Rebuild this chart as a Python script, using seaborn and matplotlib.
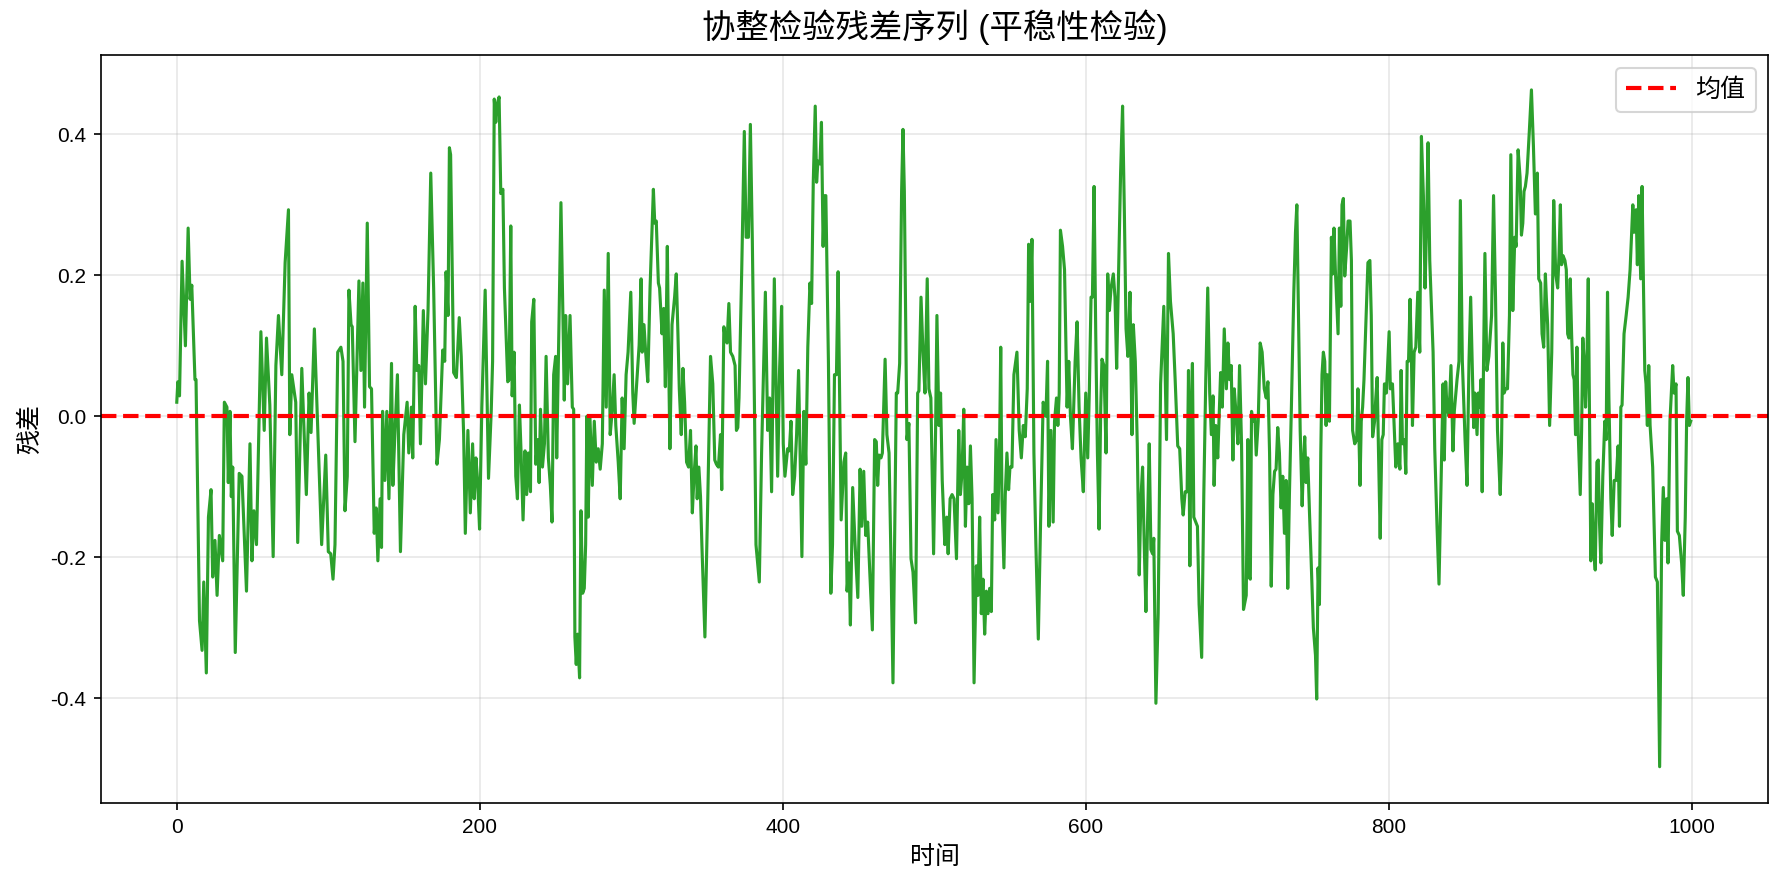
import numpy as np
import pandas as pd
import matplotlib
matplotlib.use("Agg")
import matplotlib.pyplot as plt
import seaborn as sns

# ---- data (time index, residual value) ----
t_seg1 = [0, 0.7, 1.8, 3.5, 5.7, 7.5, 8.8, 9.9, 12, 12.7, 15, 16.7, 17.8, 19.5, 20.9, 22.6, 23.7, 25.2, 26.6, 28.1,
          30.3, 31.4, 33.1, 34, 35.1, 36, 36.9, 38.6, 41.2, 43, 46, 48.3, 49.6, 50.9, 52.6, 55.5, 57.7, 59.2, 61.4, 63.6,
          65.4, 67.1, 69.3, 71.5, 73.7, 74.6, 75.9, 78.5, 79.8, 82.5, 85.5, 87.3, 88.6, 90.8, 95.6, 98.3]
v_seg1 = [0.02, 0.049, 0.029, 0.22, 0.10, 0.267, 0.166, 0.186, 0.052, 0.052, -0.29, -0.332, -0.235, -0.364, -0.143,
          -0.104, -0.228, -0.176, -0.254, -0.169, -0.205, 0.02, 0.013, -0.094, 0.007, -0.114, -0.072, -0.335, -0.081,
          -0.085, -0.248, -0.039, -0.205, -0.134, -0.182, 0.12, -0.02, 0.111, 0.016, -0.199, 0.072, 0.143, 0.059,
          0.218, 0.293, -0.026, 0.059, 0.02, -0.179, 0.068, -0.111, 0.033, -0.023, 0.124, -0.182, -0.055]

t_seg2 = [100, 101.6, 103.1, 104.4, 106.2, 108.3, 109.7, 111, 112.5, 113.6, 115, 115.8, 117.6, 120.2, 121.5, 122.8,
          123.9, 125.7, 127.2, 128.5, 130.3, 131.6, 132.7, 134.2, 135.1, 135.8, 137.3, 138.6, 140, 141.7, 142.6, 143.9,
          145.6, 147.6, 149.8, 152, 153.1, 154.8, 155.7, 157.3, 158.4, 159.7, 160.8, 162.7, 164.1, 165.8, 167.6, 169.5,
          171.7, 173.3, 175.5, 176.8, 177.7, 179, 179.9, 180.7, 182.7, 184.5, 186.4, 187.7, 189.3, 190.4, 192.1, 193.7,
          195.2, 196.3, 197.4, 198.5, 199.8, 201.3, 203.5]
v_seg2 = [-0.192, -0.195, -0.231, -0.182, 0.091, 0.098, 0.078, -0.134, -0.085, 0.179, 0.130, 0.127, -0.036, 0.192,
          0.065, 0.189, 0.013, 0.274, 0.042, 0.039, -0.166, -0.130, -0.205, -0.117, -0.186, 0.007, -0.091, 0.007,
          -0.117, 0.075, -0.098, -0.026, 0.059, -0.192, -0.026, 0.020, -0.052, 0.013, -0.059, 0.156, 0.065, 0.072,
          -0.039, 0.150, 0.046, 0.150, 0.345, 0.182, -0.068, -0.033, 0.094, 0.078, 0.205, 0.143, 0.381, 0.371, 0.062,
          0.055, 0.140, 0.085, -0.026, -0.166, -0.020, -0.137, -0.039, -0.117, -0.059, -0.091, -0.160, 0.013, 0.179]

t_seg3 = [205.7, 207.5, 208.4, 209.5, 210.5, 211.4, 212.7, 213.8, 215.2, 216.2, 217.3, 218.4, 219.3, 220.4, 221.3,
          222.6, 223.7, 224.8, 226.1, 227.2, 228.5, 229.8, 230.9, 232, 233.4, 234.2, 235.6, 236.9, 238.2, 239.1, 240,
          241.3, 242.6, 243.7, 245.2, 246.5, 247.6, 248.7, 250, 250.7, 251.8, 253.5, 254.8, 255.7, 256.6, 257.9, 259.5,
          261, 261.9, 262.7, 263.6, 264.5, 265.8, 266.7, 267.8, 268.9, 269.8, 270.6, 271.5, 272.6, 274.2, 275.5, 276.8,
          278.1, 279.4, 280.8, 282.1, 283.4, 284.7, 286, 287.3, 288.6, 289.7, 291.3, 292.6, 293.9, 295.2, 296.5, 297.8,
          299.6, 300.9, 301.8]
v_seg3 = [-0.088, 0.007, 0.078, 0.450, 0.417, 0.443, 0.453, 0.316, 0.322, 0.182, 0.117, 0.049, 0.052, 0.270, 0.029,
          0.091, -0.085, -0.117, 0.016, -0.052, -0.147, -0.049, -0.111, -0.052, -0.107, 0.134, 0.166, -0.068, -0.033,
          -0.094, 0.010, -0.072, -0.039, 0.085, -0.059, -0.098, -0.150, 0.059, 0.085, -0.059, 0.078, 0.303, 0.143,
          0.023, 0.143, 0.046, 0.143, 0.013, 0.010, -0.313, -0.352, -0.309, -0.371, -0.134, -0.251, -0.244, -0.182,
          0.0, -0.143, 0.0, -0.098, -0.007, -0.065, -0.046, -0.075, -0.039, 0.179, 0.013, 0.231, -0.026, 0.007, 0.059,
          -0.013, -0.065, -0.117, 0.026, -0.046, 0.059, 0.091, 0.176, 0.033, -0.010]

t_seg4 = [305.1, 306.4, 307.1, 308.3, 309.4, 310.8, 312.3, 314.5, 315.4, 316.4, 317.8, 318.6, 320.2, 321.3, 322.4,
          323.7, 324.6, 325.4, 326.8, 328.5, 329.6, 330.7, 331.6, 332.9, 334, 335.1, 336.4, 337.7, 339, 340.2, 341.3,
          342.6, 343.4, 344.5, 345.6, 346.5, 348.5, 350.4, 352.2, 353.7, 355, 356.1, 357.4, 358.8, 359.6, 361, 361.9,
          363.1, 364.3, 365.4, 366.9, 368.4, 369.3, 370.2, 371, 372.8, 374.5, 375.7, 377.2, 378.5, 379.8, 381.2, 382.2,
          384.4, 385.9, 388.4, 389.9, 391.2, 392.5, 394.3, 395.6, 396.5, 397.8, 399.1, 400.2, 401.3, 403.1]
v_seg4 = [0.101, 0.195, 0.091, 0.130, 0.091, 0.049, 0.182, 0.322, 0.274, 0.277, 0.189, 0.182, 0.117, 0.153, 0.042,
          0.241, 0.078, -0.046, 0.130, 0.169, 0.202, 0.117, 0.039, -0.026, 0.068, 0.020, -0.065, -0.072, -0.020,
          -0.137, -0.085, -0.042, -0.117, -0.072, -0.114, -0.182, -0.313, -0.117, 0.085, 0.046, -0.062, -0.068,
          -0.072, -0.026, -0.104, 0.127, 0.111, 0.104, 0.160, 0.091, 0.085, 0.072, -0.020, -0.016, 0.026, 0.208,
          0.404, 0.254, 0.254, 0.414, 0.248, 0.013, -0.182, -0.235, -0.052, 0.176, -0.020, 0.026, -0.107, 0.195,
          0.026, -0.085, 0.068, 0.156, -0.039, -0.085, -0.046]

t_seg5 = [404.2, 405.3, 406.4, 407.7, 409, 410.3, 411.2, 412.5, 413.8, 415.1, 416.4, 417.8, 418.9, 420, 421.3, 422.2,
          423.1, 424.4, 425.4, 426.5, 427.4, 428.3, 430, 431.6, 432.7, 434, 435.3, 436.4, 437.5, 438.4, 440.2, 441.4,
          442.3, 443.6, 444.5, 446, 447.6, 449.4, 450.9, 452, 453.3, 454.6, 455.9, 457.3, 459, 460.5, 461.6, 462.5,
          463.4, 464.7, 465.6, 467.4, 468.6, 470, 471.1, 472.6, 474, 474.8, 475.7, 477, 478.3, 479.2, 480.1, 481.8,
          483.1, 484.5, 485.8, 487.5, 488.9, 489.7, 491.1, 492.4, 493.7, 495.2, 496.3, 497.6, 499.4, 500.7, 501.6,
          502.9, 504, 505.1]
v_seg5 = [-0.049, -0.007, -0.111, -0.085, -0.026, 0.065, -0.039, -0.199, 0.007, -0.068, 0.098, 0.189, 0.160, 0.332,
          0.440, 0.332, 0.362, 0.358, 0.417, 0.241, 0.313, 0.313, 0.078, -0.251, -0.182, 0.059, 0.059, 0.205, 0.013,
          -0.147, -0.065, -0.052, -0.248, -0.208, -0.296, -0.101, -0.182, -0.257, -0.075, -0.156, -0.078, -0.169,
          -0.150, -0.221, -0.303, -0.033, -0.036, -0.098, -0.055, -0.059, -0.052, 0.081, -0.026, -0.052, -0.182,
          -0.378, -0.117, 0.033, 0.033, 0.075, 0.319, 0.407, 0.319, -0.033, -0.010, -0.202, -0.221, -0.293, 0.033,
          0.036, 0.169, 0.091, 0.033, 0.195, 0.039, 0.026, -0.195, -0.023, 0.143, -0.013, 0.033, -0.091]

t_seg6 = [506.8, 508.1, 509, 510.3, 511.6, 512.9, 514.5, 516, 517.1, 518.2, 519.3, 520.4, 521.5, 522.6, 523.7, 524.8,
          526.1, 527.6, 528.7, 529.8, 530.9, 532, 533.1, 534.2, 535.3, 536.4, 537.5, 538.4, 539.7, 540.6, 541.9, 543,
          543.7, 544.5, 545.8, 546.7, 547.8, 548.9, 549.8, 551.1, 552.4, 554.4, 555.9, 557.3, 558.6, 559.9, 561.2,
          562.1, 563.2, 564.3, 565.6, 566.9, 568.5, 570, 571.7, 573.5, 574.6, 575.5, 576.8, 578.3, 579.2, 580.5, 581.4,
          582.3, 583.1, 584.5, 585.8, 587.5, 588.6, 589.7, 591, 592.8, 594.1, 595.4, 596.7, 598.2, 599.8, 601.1, 602.2,
          603.3]
v_seg6 = [-0.182, -0.143, -0.195, -0.117, -0.111, -0.117, -0.202, -0.020, -0.111, -0.078, 0.010, -0.156, -0.072,
          -0.124, -0.042, -0.117, -0.378, -0.212, -0.254, -0.143, -0.280, -0.231, -0.309, -0.248, -0.280, -0.244,
          -0.277, -0.111, -0.147, -0.033, -0.137, -0.033, 0.098, -0.117, -0.215, -0.111, -0.052, -0.104, -0.072,
          -0.072, 0.059, 0.091, -0.020, -0.059, -0.013, -0.029, 0.039, 0.244, 0.163, 0.251, -0.052, -0.182, -0.316,
          -0.150, 0.020, 0.0, 0.078, -0.156, -0.020, -0.150, -0.007, 0.026, -0.013, 0.033, 0.264, 0.241, 0.208, 0.013,
          0.078, 0.0, -0.046, 0.078, 0.134, 0.013, -0.059, -0.107, 0.033, -0.059, 0.039, 0.169]

t_seg7 = [604.2, 605.3, 606.4, 607.5, 608.6, 609.7, 610.5, 611.8, 613.2, 614.3, 615.4, 616.5, 618, 619.1, 620.2, 621.5,
          622.8, 624.1, 625.3, 626.4, 627.6, 629, 630.3, 631.2, 632.5, 633.8, 635.1, 636.2, 637.3, 638.4, 639.5, 640.6,
          641.7, 642.8, 643.9, 644.7, 646.1, 647.6, 649.2, 651.3, 653.1, 654.4, 655.7, 657.5, 658.8, 660.5, 661.8,
          663.2, 664.1, 665.4, 666.7, 667.6, 668.5, 669.3, 670.2, 671.1, 672.4, 673.5, 674.6, 676.3, 677.7, 679, 680.3,
          681.6, 682.7, 683.8, 684.5, 685.6, 686.9, 687.7, 688.8, 689.9, 691.2, 692.6, 693.6, 694.7, 695.8, 696.9,
          697.8, 699.1, 700.2, 701.3, 702.6, 703.9]
v_seg7 = [0.169, 0.326, 0.117, -0.052, -0.160, 0.013, 0.081, 0.072, -0.052, 0.202, 0.150, 0.182, 0.202, 0.169, 0.068,
          0.208, 0.345, 0.440, 0.287, 0.124, 0.085, 0.176, -0.026, 0.130, 0.078, -0.039, -0.225, -0.117, -0.072,
          -0.182, -0.277, -0.150, -0.039, -0.189, -0.195, -0.173, -0.407, -0.280, 0.046, 0.156, -0.033, 0.231, 0.163,
          0.117, 0.052, -0.042, -0.046, -0.117, -0.140, -0.107, -0.107, 0.065, -0.212, -0.007, 0.075, -0.143, -0.150,
          -0.156, -0.267, -0.342, -0.111, 0.052, 0.182, 0.033, -0.026, 0.029, -0.098, -0.013, -0.059, -0.007, 0.062,
          0.013, 0.124, 0.039, 0.104, 0.052, 0.072, -0.062, 0.039, 0.0, -0.039, 0.072, -0.039, -0.274]

t_seg8 = [705.7, 706.8, 707.5, 708.4, 709.2, 710.1, 711.4, 712.3, 713.6, 714.9, 716.2, 717.6, 718.9, 720, 721.1, 722.2,
          723.3, 724.4, 725.4, 726.5, 727.6, 728.7, 729.8, 730.9, 732, 733.1, 734.2, 735.5, 737.1, 738.2, 739.1, 740.2,
          741.3, 742.6, 743.5, 744.3, 745.2, 746.3, 747.4, 748.5, 750, 751.4, 752.2, 753.1, 754, 754.9, 755.7, 756.6,
          757.5, 758.4, 759.2, 760.6, 761.9, 762.8, 763.6, 764.5, 765.4, 766.3, 767.2, 768.1, 768.9, 769.8, 770.7, 772,
          772.9, 774.2, 775.1, 775.9, 777.3, 778.6, 779.4, 780.8, 781.6, 782.5, 783.4, 784.6, 786, 787.3, 788.2, 789.1,
          790.4, 791.2, 792.1, 793, 794.1, 795.2, 796.1, 796.9, 798.2, 800, 800.8, 802.2, 803.5, 804.4]
v_seg8 = [-0.254, -0.033, -0.228, -0.231, 0.007, -0.007, 0.0, -0.055, -0.007, 0.104, 0.091, 0.039, 0.026, 0.049,
          -0.052, -0.241, -0.111, -0.078, -0.075, -0.016, -0.052, -0.130, -0.085, -0.166, -0.091, -0.244, -0.111,
          0.013, 0.176, 0.261, 0.300, 0.143, -0.020, -0.127, -0.065, -0.029, -0.094, -0.059, -0.134, -0.202, -0.300,
          -0.339, -0.401, -0.215, -0.267, -0.052, 0.059, 0.091, 0.078, -0.013, 0.059, -0.007, 0.254, 0.202, 0.267,
          0.208, 0.163, 0.117, 0.267, 0.156, 0.300, 0.309, 0.199, 0.241, 0.277, 0.277, 0.221, -0.020, -0.039, -0.033,
          0.039, -0.098, -0.007, 0.013, 0.052, 0.130, 0.218, 0.221, 0.143, -0.029, -0.007, 0.026, 0.055, -0.052,
          -0.173, -0.033, -0.026, 0.046, 0.033, 0.120, 0.039, 0.046, -0.026, -0.072]

t_seg9 = [805.7, 807.1, 807.9, 808.8, 810.1, 811, 811.9, 812.8, 813.8, 814.7, 815.4, 816.5, 817.6, 818.9, 820.2, 821.3,
          822.6, 823.7, 824.6, 825.7, 826.8, 829, 830.1, 831.6, 832.9, 834.7, 835.6, 836.4, 837.3, 838.2, 839.5, 840.8,
          842.1, 843, 844.8, 846.1, 847, 848.3, 850.1, 851.4, 852.7, 853.8, 854.9, 855.8, 856.6, 858, 858.8, 859.7,
          860.6, 861.4, 862.3, 863.2, 864.5, 865.8, 867.6, 868.9, 870.2, 871.5, 873.3, 874.1, 875, 875.9, 876.8, 878.1,
          879.4, 880.3, 881.6, 882.9, 883.8, 885.1, 886.4, 887.3, 888.2, 889, 889.9, 891, 892.5, 893.9, 895.2, 896.5,
          897.8, 898.7, 900, 900.9, 902, 903.1]
v_seg9 = [-0.039, -0.075, 0.065, -0.039, -0.033, -0.081, 0.078, 0.078, 0.166, 0.085, -0.013, 0.091, 0.098, 0.176,
          0.091, 0.397, 0.313, 0.182, 0.261, 0.388, 0.221, 0.091, -0.046, -0.156, -0.238, -0.052, 0.046, -0.062, 0.049,
          0.013, 0.0, 0.072, -0.049, 0.007, 0.052, 0.078, 0.306, 0.078, -0.033, -0.098, 0.078, 0.169, 0.065, -0.016,
          0.033, -0.026, 0.033, 0.013, 0.052, -0.107, 0.078, 0.231, 0.065, 0.085, 0.143, 0.313, 0.169, -0.020, -0.111,
          -0.052, 0.104, 0.033, 0.039, 0.039, 0.143, 0.371, 0.150, 0.254, 0.241, 0.378, 0.339, 0.257, 0.274, 0.319,
          0.326, 0.345, 0.404, 0.463, 0.384, 0.287, 0.345, 0.195, 0.189, 0.117, 0.098, 0.202]

t_seg10 = [903.7, 904.6, 905.9, 907.3, 908.6, 909.9, 911.2, 912.1, 913, 913.8, 914.7, 916, 916.9, 917.8, 918.6, 919.5,
           920.4, 921.3, 922.1, 923, 923.9, 924.8, 926.1, 927, 927.8, 928.7, 929.6, 930.5, 931.4, 932.2, 933.1, 934,
           934.9, 936, 937.1, 938, 938.8, 939.7, 941, 942.3, 943.2, 944.1, 945, 946.3, 947.2, 948.5, 949.8, 951.1, 952,
           952.9, 953.7, 955, 956.4, 957.7, 959, 960.8, 961.6, 963, 963.8, 964.7, 966, 966.9, 967.8, 968.7, 969.5,
           970.4, 971.3, 972.2, 973.9, 975.7, 977, 978.5, 979.8, 980.9, 982, 983.1, 984, 985.3, 987.1, 988, 989.3,
           990.2, 991.5, 993, 994.1, 995.4, 996.3, 997.2, 998.1, 999]
v_seg10 = [0.169, 0.130, -0.013, 0.091, 0.306, 0.202, 0.182, 0.228, 0.300, 0.215, 0.228, 0.221, 0.208, 0.117, 0.111,
           0.195, 0.117, 0.059, 0.052, -0.026, 0.098, -0.026, -0.111, -0.020, 0.111, 0.078, 0.013, 0.078, 0.195, 0.013,
           -0.205, -0.124, -0.182, -0.218, -0.065, -0.062, -0.150, -0.208, -0.085, -0.007, -0.033, 0.176, 0.026,
           -0.117, -0.169, -0.091, -0.091, -0.042, -0.156, 0.013, 0.016, 0.117, 0.143, 0.169, 0.208, 0.300, 0.261,
           0.293, 0.215, 0.313, 0.195, 0.326, 0.189, 0.065, 0.046, -0.013, 0.072, -0.013, -0.072, -0.228, -0.235,
           -0.497, -0.182, -0.101, -0.176, -0.117, -0.208, -0.007, 0.072, 0.033, 0.046, -0.163, -0.169, -0.208,
           -0.254, -0.143, -0.007, 0.055, -0.013, -0.007]

mean_value = 0.0
title_text = "协整检验残差序列 (平稳性检验)"
x_label = "时间"
y_label = "残差"
legend_label = "均值"
x_ticks = [0, 200, 400, 600, 800, 1000]
y_ticks = [-0.4, -0.2, 0.0, 0.2, 0.4]

t_all = (t_seg1 + t_seg2 + t_seg3 + t_seg4 + t_seg5 + t_seg6 + t_seg7 + t_seg8 + t_seg9 + t_seg10)
v_all = (v_seg1 + v_seg2 + v_seg3 + v_seg4 + v_seg5 + v_seg6 + v_seg7 + v_seg8 + v_seg9 + v_seg10)
df = pd.DataFrame({"t": t_all, "v": v_all})

plt.rcParams["font.family"] = ["Liberation Sans", "Noto Sans CJK SC", "DejaVu Sans"]
plt.rcParams["axes.unicode_minus"] = False

fig = plt.figure(figsize=(1785 / 150, 886 / 150), dpi=150)
ax = fig.add_axes([101 / 1785, 1 - 803 / 886, (1768 - 101) / 1785, (803 - 55) / 886])

sns.lineplot(data=df, x="t", y="v", color="#2ca02c", linewidth=1.5, estimator=None, sort=False, ax=ax)
ax.axhline(mean_value, color="red", linestyle="--", linewidth=2, label=legend_label)

ax.set_xlim(-50, 1050)
ax.set_ylim(-0.5485, 0.5125)
ax.set_xticks(x_ticks)
ax.set_yticks(y_ticks)
ax.set_yticklabels([f"{y:.1f}" for y in y_ticks])
ax.grid(True, alpha=0.3)
ax.set_title(title_text, fontsize=16, pad=8)
ax.set_xlabel(x_label, fontsize=12)
ax.set_ylabel(y_label, fontsize=12)
ax.legend(loc="upper right", fontsize=12)

fig.savefig("out.png", dpi=150)
